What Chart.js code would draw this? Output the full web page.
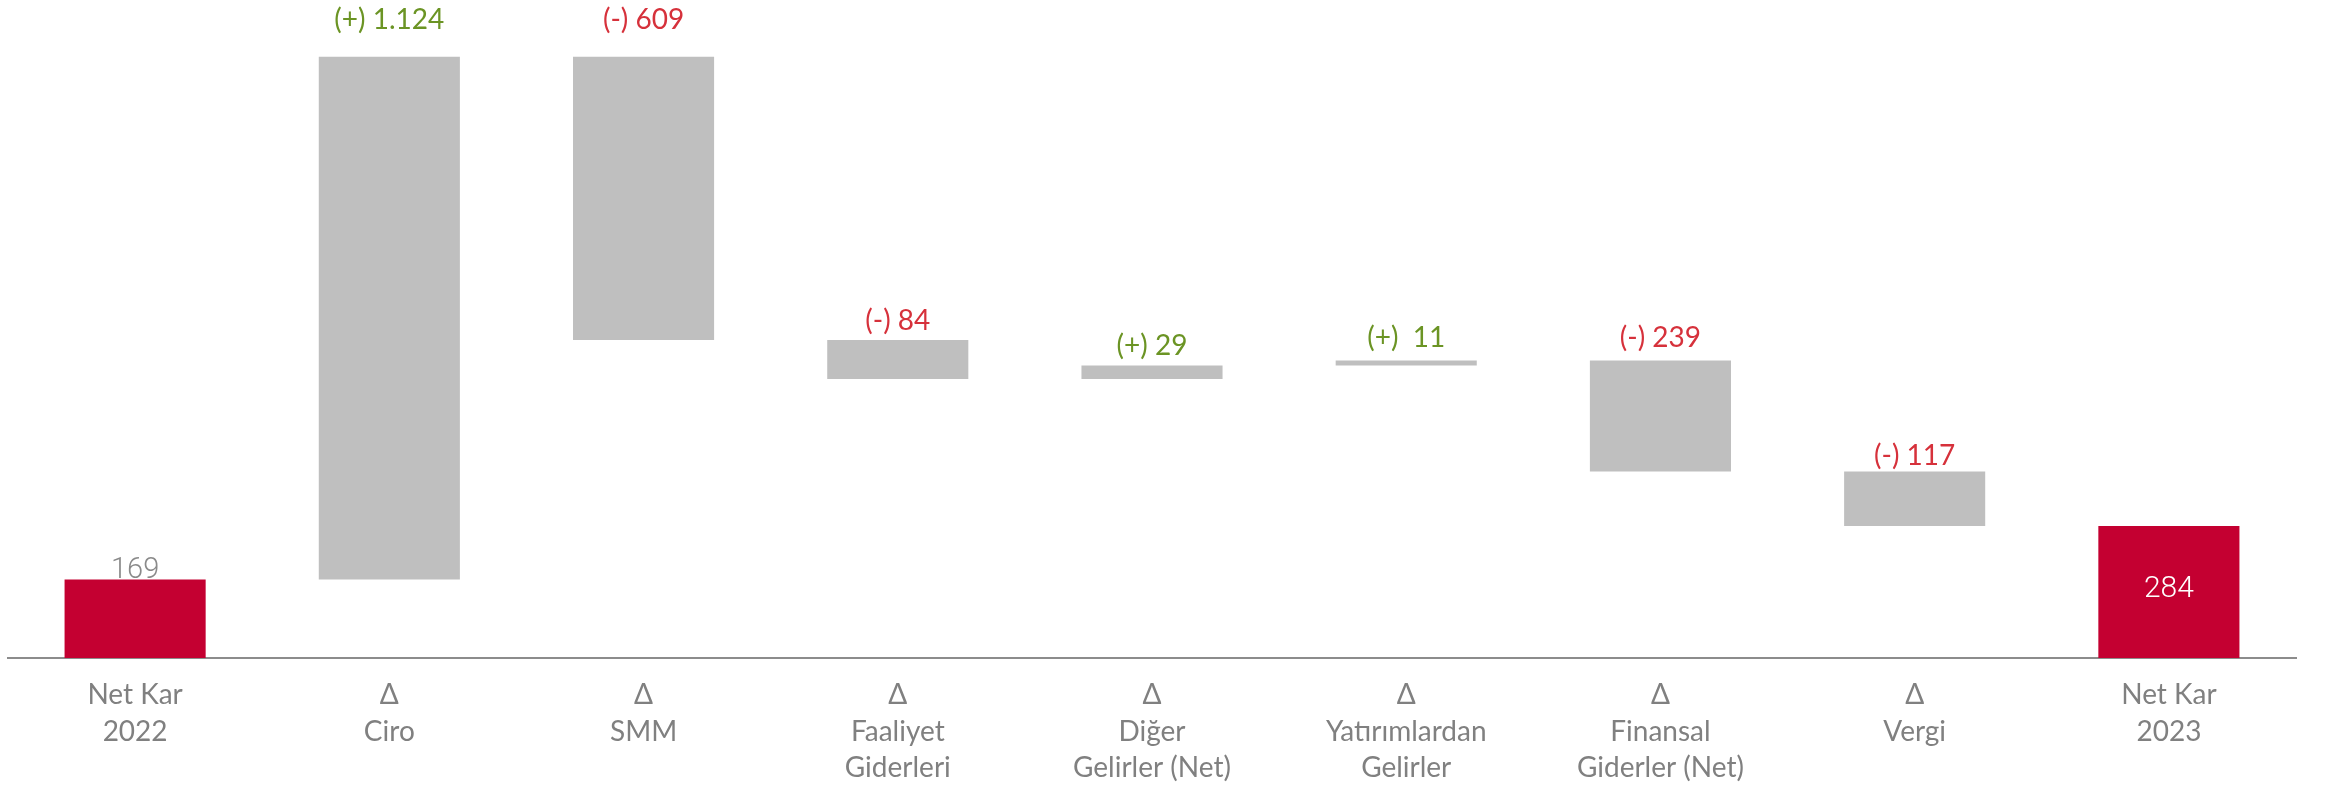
<!DOCTYPE html>
<html>
<head>
<meta charset="utf-8">
<script src="https://cdn.jsdelivr.net/npm/chart.js@4.4.1/dist/chart.umd.min.js"></script>
<style>
  html, body { margin: 0; padding: 0; background: #ffffff; }
  #wrap { width: 2328px; height: 788px; }
</style>
</head>
<body>
<div id="wrap"><canvas id="c" width="2328" height="788"></canvas></div>
<script>
// ---- data ----
const categories = [
  ['Net Kar', '2022'],
  ['Δ', 'Ciro'],
  ['Δ', 'SMM'],
  ['Δ', 'Faaliyet', 'Giderleri'],
  ['Δ', 'Diğer', 'Gelirler (Net)'],
  ['Δ', 'Yatırımlardan', 'Gelirler'],
  ['Δ', 'Finansal', 'Giderler (Net)'],
  ['Δ', 'Vergi'],
  ['Net Kar', '2023']
];
const startValue = 169;
const deltas = [1124, -609, -84, 29, 11, -239, -117];
const endValue = 284;
const valueLabels = ['169', '(+) 1.124', '(-) 609', '(-) 84', '(+) 29', '(+)  11', '(-) 239', '(-) 117', '284'];

// ---- build floating bars ----
const ranges = [[0, startValue]];
let run = startValue;
deltas.forEach(d => { ranges.push([run, run + d]); run += d; });
ranges.push([0, endValue]);

const RED = '#c40031';
const GREY = '#bfbfbf';
const barColors = ranges.map((r, i) => (i === 0 || i === ranges.length - 1) ? RED : GREY);
const labelColors = ['#8a8a8a'].concat(deltas.map(d => d >= 0 ? '#6b9424' : '#d6313b')).concat(['#ffffff']);
const labelLift = [11, 37, 37, 19, 20, 22, 22, 16, 0];

const labelPlugin = {
  id: 'wfLabels',
  afterDatasetsDraw(chart) {
    const ctx = chart.ctx;
    const meta = chart.getDatasetMeta(0);
    ctx.save();
    meta.data.forEach((bar, i) => {
      const top = Math.min(bar.y, bar.base);
      const bottom = Math.max(bar.y, bar.base);
      ctx.textAlign = 'center';
      ctx.fillStyle = labelColors[i];
      if (i === 0) {
        ctx.font = '300 29px Roboto';
        ctx.textBaseline = 'alphabetic';
        ctx.fillText(valueLabels[i], bar.x, top - 1);
      } else if (i === meta.data.length - 1) {
        ctx.font = '300 30px Roboto';
        ctx.textBaseline = 'middle';
        ctx.fillText(valueLabels[i], bar.x, (top + bottom) / 2 - 2);
      } else {
        ctx.font = '28px Lato';
        ctx.textBaseline = 'middle';
        ctx.fillText(valueLabels[i], bar.x, top - labelLift[i]);
      }
    });
    ctx.restore();
  }
};

new Chart(document.getElementById('c'), {
  type: 'bar',
  data: {
    labels: categories,
    datasets: [{
      data: ranges,
      backgroundColor: barColors,
      borderWidth: 0,
      barPercentage: 0.555,
      categoryPercentage: 1.0
    }]
  },
  options: {
    responsive: false,
    animation: false,
    devicePixelRatio: 1,
    layout: { padding: { left: 8, right: 32, top: 0, bottom: 0 } },
    plugins: { legend: { display: false }, tooltip: { enabled: false } },
    scales: {
      x: {
        grid: { display: false, drawTicks: false },
        border: { display: true, color: '#8c8c8c', width: 2 },
        ticks: {
          color: '#808080',
          font: { family: 'Lato', size: 28, lineHeight: 1.3 },
          padding: 19,
          maxRotation: 0,
          autoSkip: false
        },
        afterFit(scale) { scale.height = 130; }
      },
      y: {
        display: false,
        min: 0,
        max: 1415
      }
    }
  },
  plugins: [labelPlugin]
});
</script>
</body>
</html>
